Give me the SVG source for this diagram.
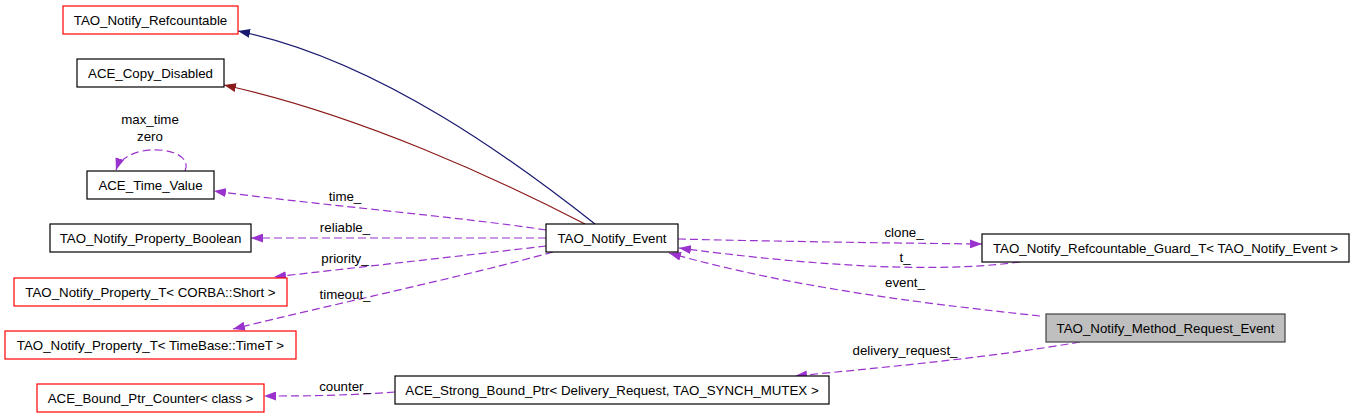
<svg xmlns="http://www.w3.org/2000/svg" width="1355" height="419" viewBox="0 0 1355 419">
<style>
text{font-family:"Liberation Sans",Arial,sans-serif;font-size:13.3px;fill:#000}
.n text{text-anchor:middle}
.n rect{fill:#fff;stroke:#000;stroke-width:1.2}
.n.red rect{stroke:#ff0000}
.n.cur rect{fill:#bfbfbf;stroke:#404040}
.e{fill:none;stroke-width:1.2}
.u{stroke:#9a32cd;stroke-dasharray:8,4}
.lbl{text-anchor:middle}
</style>
<defs>
<marker id="ap" viewBox="0 0 12 9" refX="12" refY="4.5" markerWidth="12" markerHeight="9" markerUnits="userSpaceOnUse" orient="auto"><path d="M0,0 L12,4.5 L0,9 z" fill="#9a32cd"/></marker>
<marker id="ab" viewBox="0 0 12 9" refX="12" refY="4.5" markerWidth="12" markerHeight="9" markerUnits="userSpaceOnUse" orient="auto"><path d="M0,0 L12,4.5 L0,9 z" fill="#191970"/></marker>
<marker id="ar" viewBox="0 0 12 9" refX="12" refY="4.5" markerWidth="12" markerHeight="9" markerUnits="userSpaceOnUse" orient="auto"><path d="M0,0 L12,4.5 L0,9 z" fill="#8b1a1a"/></marker>
</defs>
<g id="edges">
<path class="e" stroke="#191970" d="M595,224 C520,165 380,60 238,31" marker-end="url(#ab)"/>
<path class="e" stroke="#8b1a1a" d="M585,224 C500,180 360,115 224,85" marker-end="url(#ar)"/>
<path class="e u" d="M185,171 C196,146 126,140 116,170" marker-end="url(#ap)"/>
<path class="e u" d="M546,230 C470,218 300,203 214,191" marker-end="url(#ap)"/>
<path class="e u" d="M546,238 L251,238" marker-end="url(#ap)"/>
<path class="e u" d="M546,246 C470,255 360,267 274,277" marker-end="url(#ap)"/>
<path class="e u" d="M553,252 C470,275 330,305 233,329" marker-end="url(#ap)"/>
<path class="e u" d="M678,239 C760,241 880,243 982,244" marker-end="url(#ap)"/>
<path class="e u" d="M1020,262 C960,270 860,272 679,248" marker-end="url(#ap)"/>
<path class="e u" d="M1040,316 C940,305 800,290 669,253" marker-end="url(#ap)"/>
<path class="e u" d="M1080,342 C1000,356 900,366 795,376" marker-end="url(#ap)"/>
<path class="e u" d="M395,392 C340,396 300,396 264,396" marker-end="url(#ap)"/>
<text class="lbl" x="150" y="124">max_time</text>
<text class="lbl" x="150" y="141">zero</text>
<text class="lbl" x="345" y="201">time_</text>
<text class="lbl" x="345" y="232">reliable_</text>
<text class="lbl" x="345" y="263">priority_</text>
<text class="lbl" x="345" y="299">timeout_</text>
<text class="lbl" x="345" y="391">counter_</text>
<text class="lbl" x="904" y="237">clone_</text>
<text class="lbl" x="905" y="262">t_</text>
<text class="lbl" x="905" y="287">event_</text>
<text class="lbl" x="905" y="355">delivery_request_</text>
</g>
<g id="n_refcountable" class="n red"><rect x="63" y="6" width="175" height="28"/><text x="150.5" y="24.5">TAO_Notify_Refcountable</text></g>
<g id="n_copy_disabled" class="n"><rect x="77" y="59" width="147" height="28"/><text x="150.5" y="77.5">ACE_Copy_Disabled</text></g>
<g id="n_time_value" class="n"><rect x="87" y="171" width="127" height="28"/><text x="150.5" y="189.5">ACE_Time_Value</text></g>
<g id="n_prop_boolean" class="n"><rect x="50" y="224" width="201" height="28"/><text x="150.5" y="242.5">TAO_Notify_Property_Boolean</text></g>
<g id="n_prop_short" class="n red"><rect x="14" y="278" width="273" height="28"/><text x="150.5" y="296.5">TAO_Notify_Property_T&lt; CORBA::Short &gt;</text></g>
<g id="n_prop_timet" class="n red"><rect x="5" y="331" width="291" height="28"/><text x="150.5" y="349.5">TAO_Notify_Property_T&lt; TimeBase::TimeT &gt;</text></g>
<g id="n_bound_ptr_counter" class="n red"><rect x="37" y="384" width="227" height="28"/><text x="150.5" y="402.5">ACE_Bound_Ptr_Counter&lt; class &gt;</text></g>
<g id="n_strong_bound_ptr" class="n"><rect x="395" y="376" width="434" height="28"/><text x="612" y="394.5">ACE_Strong_Bound_Ptr&lt; Delivery_Request, TAO_SYNCH_MUTEX &gt;</text></g>
<g id="n_event" class="n"><rect x="546" y="224" width="132" height="28"/><text x="612" y="242.5">TAO_Notify_Event</text></g>
<g id="n_guard" class="n"><rect x="982" y="234" width="367" height="28"/><text x="1165.5" y="252.5">TAO_Notify_Refcountable_Guard_T&lt; TAO_Notify_Event &gt;</text></g>
<g id="n_method_request_event" class="n cur"><rect x="1046" y="314" width="239" height="28"/><text x="1165.5" y="332.5">TAO_Notify_Method_Request_Event</text></g>
</svg>
